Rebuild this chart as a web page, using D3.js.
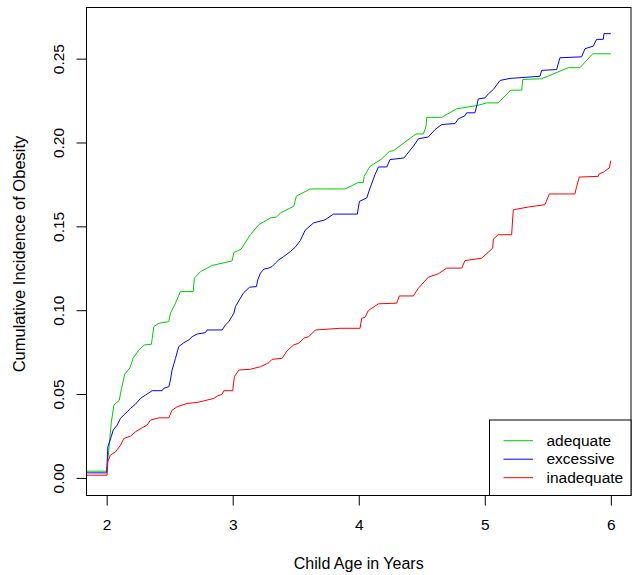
<!DOCTYPE html>
<html>
<head>
<meta charset="utf-8">
<script src="https://cdn.jsdelivr.net/npm/d3@7"></script>
<style>
  body { margin: 0; background: #fff; }
  svg { display: block; font-family: "Liberation Sans", Arial, Helvetica, sans-serif; }
</style>
</head>
<body>
<div id="chart"></div>
<script>
// cumulative incidence by weight-gain group, [age in years, incidence]
const adequate = [
  [1.84, 0.004], [2.0, 0.004], [2.017, 0.0165], [2.036, 0.0327], [2.057, 0.0434], [2.10, 0.0463],
  [2.118, 0.0534], [2.144, 0.062], [2.184, 0.0655], [2.21, 0.0713], [2.255, 0.0763], [2.30, 0.0793],
  [2.355, 0.0797], [2.374, 0.0902], [2.414, 0.0922], [2.493, 0.0932], [2.506, 0.0982], [2.546, 0.1042],
  [2.585, 0.1111], [2.686, 0.1111], [2.696, 0.1191], [2.744, 0.123], [2.837, 0.1267], [2.995, 0.1294],
  [3.009, 0.1344], [3.067, 0.1364], [3.088, 0.139], [3.14, 0.145], [3.207, 0.151], [3.299, 0.155],
  [3.347, 0.1555], [3.378, 0.158], [3.485, 0.162], [3.505, 0.168], [3.614, 0.1723], [3.891, 0.1723],
  [3.997, 0.1762], [4.037, 0.1762], [4.042, 0.1798], [4.09, 0.1858], [4.182, 0.1902], [4.243, 0.1947],
  [4.275, 0.1951], [4.454, 0.2051], [4.513, 0.2051], [4.534, 0.2097], [4.539, 0.215], [4.658, 0.215],
  [4.777, 0.2201], [4.936, 0.222], [5.015, 0.2236], [5.107, 0.2236], [5.205, 0.2312], [5.293, 0.2312],
  [5.301, 0.2376], [5.451, 0.238], [5.662, 0.2446], [5.755, 0.2446], [5.856, 0.2529], [6.0, 0.2529]
];

const excessive = [
  [1.84, 0.003], [2.0, 0.003], [2.009, 0.0185], [2.036, 0.0245], [2.052, 0.0285], [2.083, 0.0315],
  [2.110, 0.0355], [2.136, 0.0375], [2.163, 0.0394], [2.189, 0.0415], [2.229, 0.044], [2.268, 0.0474],
  [2.308, 0.0494], [2.361, 0.052], [2.440, 0.052], [2.453, 0.0534], [2.493, 0.0544], [2.506, 0.0584],
  [2.519, 0.0643], [2.546, 0.0713], [2.572, 0.0783], [2.612, 0.0806], [2.652, 0.0823], [2.678, 0.0842],
  [2.718, 0.0858], [2.784, 0.0866], [2.797, 0.0882], [2.916, 0.0882], [2.942, 0.0912], [2.969, 0.0932],
  [3.009, 0.0982], [3.022, 0.1022], [3.061, 0.1072], [3.088, 0.1105], [3.133, 0.1137], [3.188, 0.1141],
  [3.199, 0.1181], [3.220, 0.1221], [3.247, 0.1245], [3.286, 0.1251], [3.312, 0.126], [3.339, 0.1281],
  [3.365, 0.130], [3.405, 0.132], [3.458, 0.135], [3.497, 0.1376], [3.537, 0.1416], [3.574, 0.1476],
  [3.640, 0.152], [3.733, 0.1539], [3.799, 0.1573], [3.989, 0.1573], [4.005, 0.1649], [4.063, 0.1669],
  [4.090, 0.1729], [4.129, 0.1808], [4.156, 0.1854], [4.222, 0.1854], [4.248, 0.1898], [4.359, 0.1908],
  [4.380, 0.1928], [4.433, 0.1977], [4.473, 0.2022], [4.552, 0.2033], [4.605, 0.2077], [4.658, 0.2107],
  [4.764, 0.2113], [4.790, 0.2141], [4.843, 0.216], [4.856, 0.2177], [4.922, 0.2177], [4.949, 0.226],
  [5.002, 0.2266], [5.028, 0.229], [5.068, 0.2316], [5.121, 0.237], [5.200, 0.2382], [5.438, 0.2395],
  [5.451, 0.243], [5.570, 0.2435], [5.596, 0.2505], [5.768, 0.2511], [5.795, 0.2559], [5.861, 0.2575],
  [5.887, 0.2615], [5.940, 0.2615], [5.945, 0.2649], [6.0, 0.2649]
];

const inadequate = [
  [1.84, 0.0016], [2.003, 0.0016], [2.009, 0.0096], [2.030, 0.0136], [2.070, 0.0155], [2.110, 0.0195],
  [2.136, 0.0235], [2.189, 0.0249], [2.229, 0.0275], [2.282, 0.0299], [2.321, 0.0315], [2.348, 0.0345],
  [2.414, 0.0358], [2.493, 0.0358], [2.519, 0.0404], [2.559, 0.0424], [2.638, 0.0444], [2.718, 0.045],
  [2.797, 0.0464], [2.850, 0.0474], [2.882, 0.049], [2.916, 0.0498], [2.929, 0.052], [3.0, 0.052],
  [3.013, 0.0603], [3.048, 0.0643], [3.141, 0.0648], [3.220, 0.0663], [3.286, 0.0687], [3.312, 0.0707],
  [3.392, 0.0713], [3.431, 0.0757], [3.484, 0.0793], [3.524, 0.0803], [3.564, 0.0833], [3.603, 0.0842],
  [3.656, 0.0882], [3.852, 0.0892], [4.010, 0.0892], [4.024, 0.0952], [4.050, 0.0958], [4.076, 0.0998],
  [4.156, 0.1038], [4.301, 0.1042], [4.322, 0.1085], [4.433, 0.1085], [4.473, 0.1131], [4.552, 0.1197],
  [4.631, 0.1217], [4.698, 0.1251], [4.817, 0.1251], [4.843, 0.1296], [4.975, 0.131], [5.063, 0.137],
  [5.068, 0.1424], [5.107, 0.145], [5.213, 0.145], [5.226, 0.1599], [5.345, 0.1615], [5.477, 0.1629],
  [5.512, 0.1693], [5.715, 0.1693], [5.729, 0.1738], [5.750, 0.1794], [5.900, 0.1798], [5.908, 0.1814],
  [5.940, 0.1822], [5.967, 0.1838], [5.988, 0.1848], [6.0, 0.1892]
];

const groups = ["adequate", "excessive", "inadequate"];
const xTicks = [2, 3, 4, 5, 6];
const yTicks = [0, 0.05, 0.10, 0.15, 0.20, 0.25];

const width = 633, height = 575;
const plotLeft = 86.5, plotRight = 631, plotTop = 7.5, plotBottom = 495.5;

const x_scale = d3.scaleLinear().domain([1.84, 6.16]).range([plotLeft, plotRight]);
const y_scale = d3.scaleLinear().domain([-0.0105, 0.2805]).range([plotBottom, plotTop]);

const color_scale = d3.scaleOrdinal()
  .domain(groups)
  .range(["#00CD00", "#0000FF", "#FF0000"]);

const svg = d3.select("#chart")
  .append("svg")
  .attr("width", width)
  .attr("height", height);

svg.append("rect")
  .attr("width", width)
  .attr("height", height)
  .attr("fill", "#fff");

const line = d3.line()
  .x(d => x_scale(d[0]))
  .y(d => y_scale(d[1]));

const series = [
  { name: "adequate", values: adequate },
  { name: "excessive", values: excessive },
  { name: "inadequate", values: inadequate }
];

svg.selectAll(".curve")
  .data(series)
  .enter()
  .append("path")
  .attr("class", "curve")
  .attr("d", d => line(d.values))
  .attr("fill", "none")
  .attr("stroke", d => color_scale(d.name))
  .attr("stroke-width", 1);

// x axis
const xAxis = svg.append("g")
  .attr("transform", `translate(0,${plotBottom})`)
  .call(d3.axisBottom(x_scale).tickValues(xTicks).tickSize(10).tickFormat(d3.format("d")));
xAxis.select(".domain").remove();
xAxis.selectAll("text")
  .attr("y", 0)
  .attr("dy", 34.5)
  .attr("fill", "#000")
  .style("font-size", "15.5px");

// y axis, labels rotated like R's default
const yAxis = svg.append("g")
  .attr("transform", `translate(${plotLeft},0)`)
  .call(d3.axisLeft(y_scale).tickValues(yTicks).tickSize(10).tickFormat(d3.format(".2f")));
yAxis.select(".domain").remove();
yAxis.selectAll("text")
  .attr("transform", "rotate(-90)")
  .attr("x", 0)
  .attr("y", -23)
  .attr("dy", 0)
  .attr("text-anchor", "middle")
  .attr("fill", "#000")
  .style("font-size", "15.5px");

// plot frame
svg.append("rect")
  .attr("x", plotLeft)
  .attr("y", plotTop)
  .attr("width", plotRight - plotLeft)
  .attr("height", plotBottom - plotTop)
  .attr("fill", "none")
  .attr("stroke", "#000")
  .attr("stroke-width", 1);

svg.append("text")
  .attr("x", (plotLeft + plotRight) / 2)
  .attr("y", 568.5)
  .attr("text-anchor", "middle")
  .style("font-size", "16px")
  .text("Child Age in Years");

svg.append("text")
  .attr("transform", `translate(25,254) rotate(-90)`)
  .attr("text-anchor", "middle")
  .style("font-size", "16.5px")
  .text("Cumulative Incidence of Obesity");

// legend
const legend = svg.append("g");
legend.append("rect")
  .attr("x", 489.5)
  .attr("y", 420)
  .attr("width", plotRight - 489.5)
  .attr("height", plotBottom - 420)
  .attr("fill", "#fff")
  .attr("stroke", "#000");

const rowY = d3.scaleLinear().domain([0, 2]).range([440.7, 477.7]);
legend.selectAll(".key")
  .data(groups)
  .enter()
  .append("line")
  .attr("x1", 503.5)
  .attr("x2", 533)
  .attr("y1", (d, i) => rowY(i))
  .attr("y2", (d, i) => rowY(i))
  .attr("stroke", d => color_scale(d));

legend.selectAll(".label")
  .data(groups)
  .enter()
  .append("text")
  .attr("x", 546.5)
  .attr("y", (d, i) => rowY(i) + 5)
  .style("font-size", "15.5px")
  .text(d => d);
</script>
</body>
</html>
